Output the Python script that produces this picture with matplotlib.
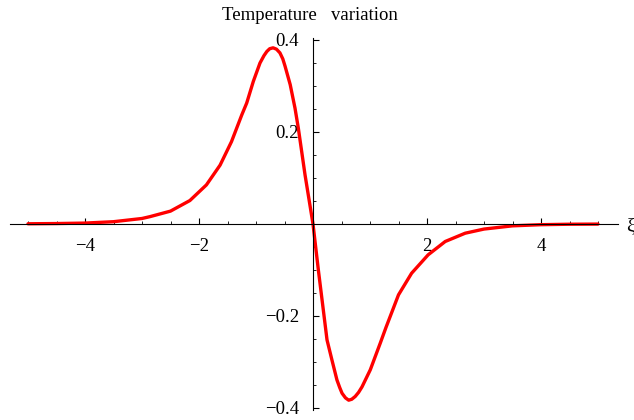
import matplotlib
matplotlib.use("Agg")
import matplotlib.pyplot as plt
from matplotlib.ticker import FixedLocator

plt.rcParams['font.family'] = ['Liberation Serif', 'DejaVu Serif']

x_vals = [-5.0, -4.5, -4.0, -3.5, -3.0, -2.86, -2.5, -2.16, -1.87, -1.63, -1.43, -1.25,
          -1.163, -1.047, -0.93, -0.86, -0.81, -0.76, -0.70, -0.64, -0.58, -0.53, -0.49,
          -0.40, -0.316, -0.257, -0.14, 0.0, 0.094, 0.246, 0.333, 0.42, 0.47, 0.51, 0.57,
          0.626, 0.68, 0.74, 0.80, 0.86, 1.005, 1.18, 1.28, 1.5, 1.73, 2.02, 2.32, 2.67,
          3.0, 3.5, 4.0, 4.5, 5.0]
temp_var = [0.0005, 0.001, 0.002, 0.005, 0.012, 0.016, 0.028, 0.051, 0.085, 0.128, 0.179,
            0.237, 0.263, 0.310, 0.350, 0.366, 0.375, 0.381, 0.383, 0.380, 0.372, 0.359,
            0.343, 0.303, 0.252, 0.208, 0.107, 0.0, -0.100, -0.252, -0.296, -0.339,
            -0.356, -0.368, -0.378, -0.383, -0.381, -0.375, -0.366, -0.354, -0.317,
            -0.259, -0.225, -0.154, -0.107, -0.067, -0.038, -0.020, -0.011, -0.004,
            -0.0015, -0.0005, -0.0002]
x_ticks = [-4, -2, 2, 4]
y_ticks = [-0.4, -0.2, 0.2, 0.4]
title = "Temperature   variation"
x_label = "ξ"

W, H = 634, 420
fig = plt.figure(figsize=(W / 100, H / 100), dpi=100)
left_px, right_px, top_px, bot_px = 10, 618, 38, 410
ax = fig.add_axes([left_px / W, (H - bot_px) / H, (right_px - left_px) / W, (bot_px - top_px) / H])
ax.set_xlim((left_px - 313) / 57, (right_px - 313) / 57)
ax.set_ylim((224 - bot_px) / 460, (224 - top_px) / 460)

ax.plot(x_vals, temp_var, color='#ff0000', lw=2.4, solid_joinstyle='round',
        solid_capstyle='round', clip_on=False)

for s in ['top', 'right']:
    ax.spines[s].set_visible(False)
ax.spines['left'].set_position(('data', 0))
ax.spines['bottom'].set_position(('data', 0))
ax.spines['left'].set_bounds(-0.404, 0.404)
for s in ['left', 'bottom']:
    ax.spines[s].set_linewidth(0.8)

ax.xaxis.set_major_locator(FixedLocator(x_ticks))
ax.xaxis.set_minor_locator(FixedLocator([v / 2 for v in range(-10, 11) if v % 4 != 0]))
ax.yaxis.set_major_locator(FixedLocator(y_ticks))
ax.yaxis.set_minor_locator(FixedLocator([v / 20 for v in range(-8, 9) if v % 4 != 0]))
ax.set_xticklabels(['\u2212' + str(abs(v)) if v < 0 else str(v) for v in x_ticks])
ax.set_yticklabels(['\u2212' + str(abs(v)) if v < 0 else str(v) for v in y_ticks])

ax.tick_params(axis='x', which='major', direction='in', length=4, width=0.8, pad=10, labelsize=13.5)
ax.tick_params(axis='x', which='minor', direction='in', length=2.5, width=0.6)
ax.tick_params(axis='y', which='major', direction='in', length=4, width=0.8, pad=10, labelsize=13.5)
ax.tick_params(axis='y', which='minor', direction='in', length=2.5, width=0.6)

fig.text(310 / W, 1 - 15 / H, title, ha='center', va='center', fontsize=13.5)
fig.text(626 / W, 1 - 226 / H, x_label, ha='left', va='center', fontsize=14)

fig.savefig('out.png', dpi=100)
